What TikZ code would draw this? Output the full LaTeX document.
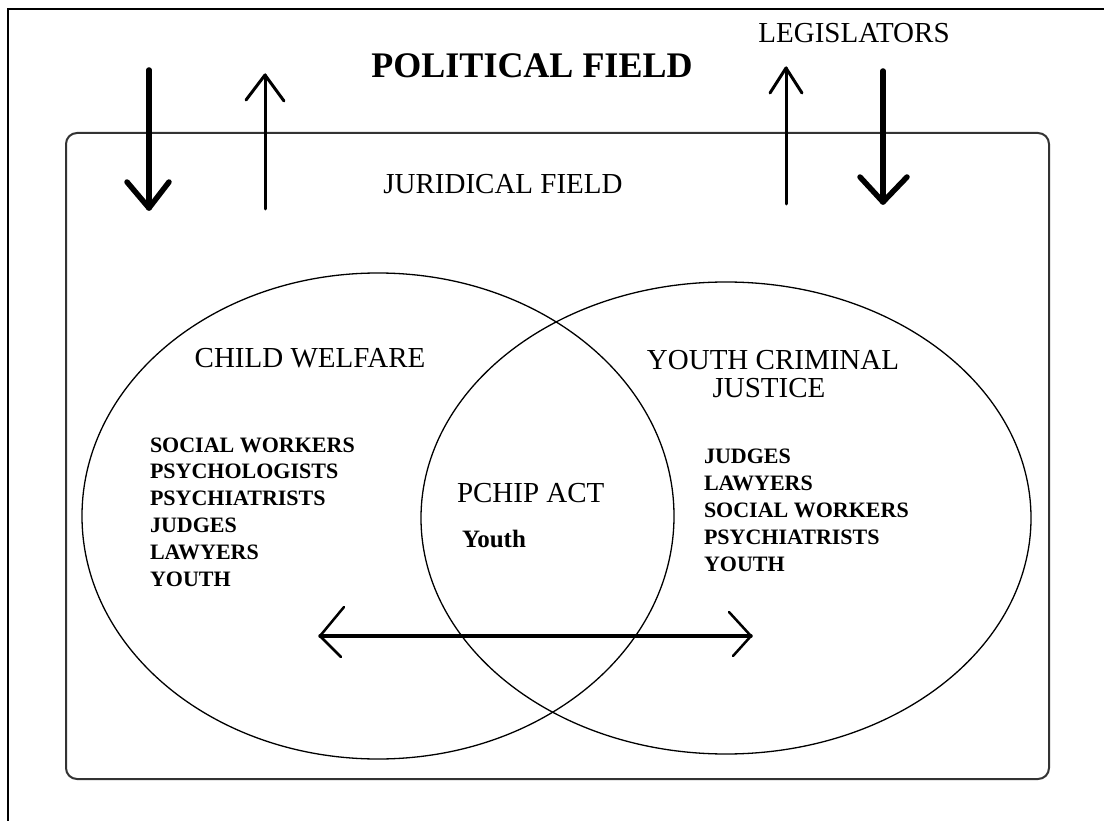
\documentclass[tikz,border=0pt]{standalone}
\usepackage{fontspec}
\setmainfont{Liberation Serif}
\begin{document}
\begin{tikzpicture}[x=1pt,y=-1pt,
  txt/.style={inner sep=0pt, outer sep=0pt},
  bigtitle/.style={txt, anchor=base, font=\fontsize{36}{40}\selectfont\bfseries},
  label/.style={txt, anchor=base, font=\fontsize{29}{32}\selectfont},
  item/.style={txt, anchor=base west, font=\fontsize{22}{24}\selectfont\bfseries},
  frame/.style={line width=2pt, draw=black!80},
  field/.style={line width=1.3pt, draw=black},
  thick arrow/.style={line width=5.5pt, line cap=round, line join=round},
  thin arrow/.style={line width=3pt, line cap=round, line join=round},
  mid arrow/.style={line width=3.5pt, line cap=round},
  head/.style={line width=2.5pt, line cap=round, line join=round}]
\useasboundingbox (0,0) rectangle (1104,821);
\fill[white] (0,0) rectangle (1104,821);
% outer frame (only top and left edges visible)
\draw[frame, draw=black] (8,821) -- (8,9) -- (1104,9);
% juridical field
\draw[frame, rounded corners=11pt] (66,133) rectangle (1049,779);
% two fields
\draw[field] (378,516) ellipse [x radius=296pt, y radius=243pt];
\draw[field] (726,518) ellipse [x radius=305pt, y radius=236pt];
% texts
\node[bigtitle] (political) at (532,78) {POLITICAL FIELD};
\node[label] (legis) at (854,43) {LEGISLATORS};
\node[label] (juridical) at (503,194) {JURIDICAL FIELD};
\node[label] (child) at (310,367) {CHILD WELFARE};
\node[label] (ycj1) at (773,369) {YOUTH CRIMINAL};
\node[label] (ycj2) at (769,397) {JUSTICE};
\node[label, anchor=base west] (pchip) at (457,502) {PCHIP ACT};
\node[txt, anchor=base west, font=\fontsize{25}{28}\selectfont\bfseries] (youthc) at (462,547) {Youth};
\foreach \t [count=\i] in {SOCIAL WORKERS,PSYCHOLOGISTS,PSYCHIATRISTS,JUDGES,LAWYERS,YOUTH}
  \node[item] (cw\i) at (150,{452+26.8*(\i-1)}) {\t};
\foreach \t [count=\i] in {JUDGES,LAWYERS,SOCIAL WORKERS,PSYCHIATRISTS,YOUTH}
  \node[item] (yj\i) at (704,{463+27.2*(\i-1)}) {\t};
% vertical arrows between political and juridical fields
\coordinate (a1s) at (149,70);  \coordinate (a1t) at (149,208);
\coordinate (a2s) at (265,209); \coordinate (a2t) at (265,75);
\coordinate (a3s) at (786,204); \coordinate (a3t) at (786,68);
\coordinate (a4s) at (883,71);  \coordinate (a4t) at (883,202);
\draw[thick arrow] (a1s) -- (a1t);
\draw[thick arrow] (127,182) -- (a1t) -- (169,182);
\draw[thin arrow] (a2s) -- (a2t);
\draw[thin arrow] (246,100) -- (a2t) -- (284,101);
\draw[thin arrow] (a3s) -- (a3t);
\draw[thin arrow] (770,93) -- (a3t) -- (802,93);
\draw[thick arrow] (a4s) -- (a4t);
\draw[thick arrow] (860,177) -- (a4t) -- (907,177);
% double arrow between the fields
\coordinate (dl) at (320,636); \coordinate (dr) at (751,636);
\draw[mid arrow] (dl) -- (dr);
\draw[head] (344,607) -- (dl) -- (341,657);
\draw[head] (729,612) -- (dr) -- (733,656);
\end{tikzpicture}
\end{document}
